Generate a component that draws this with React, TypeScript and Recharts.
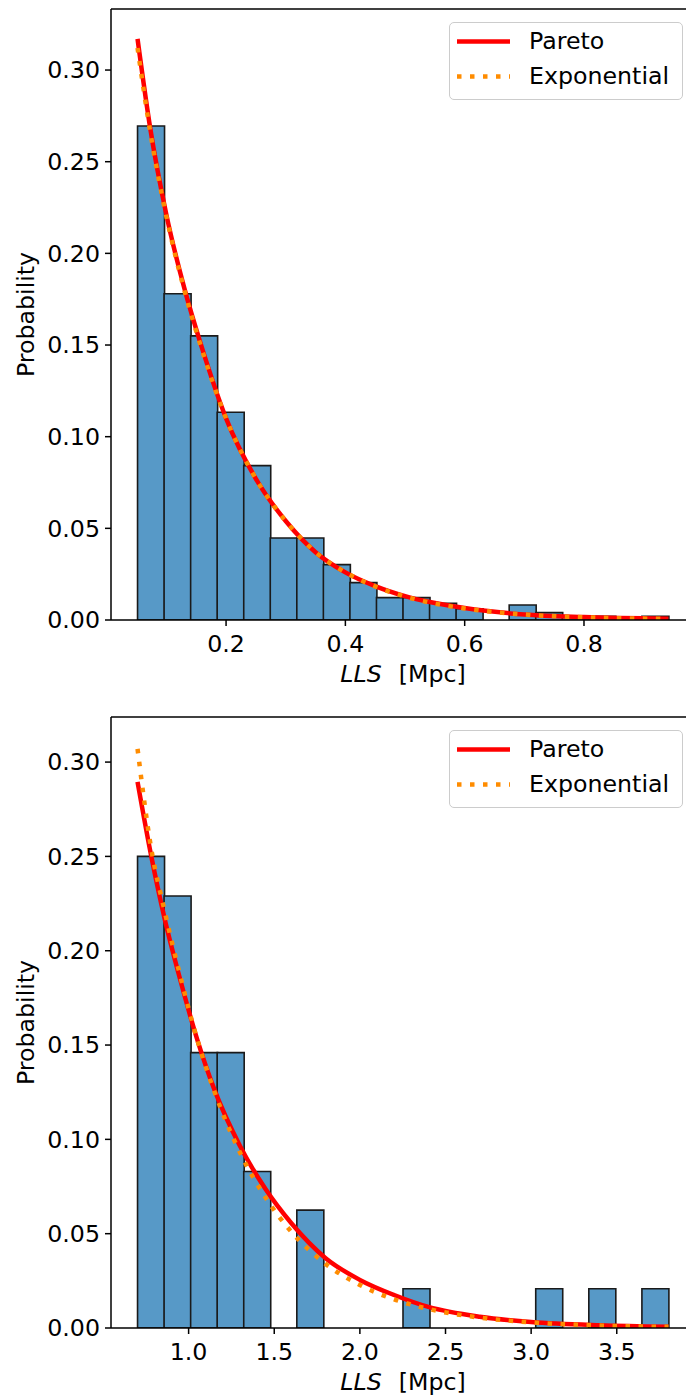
import React from "react";
import { ComposedChart, Bar, Line, XAxis, YAxis, Legend, ReferenceLine } from "recharts";

// ---- top panel: LLS histogram (0.05 - 0.94 Mpc) ----
const topBinCenters = [
  0.07385, 0.11835, 0.16285, 0.20735, 0.25185, 0.29635, 0.34085, 0.38535, 0.42985, 0.47435,
  0.51885, 0.56335, 0.60785, 0.65235, 0.69685, 0.74135, 0.78585, 0.83035, 0.87485, 0.91935,
];
const topProb = [
  0.2695, 0.178, 0.155, 0.1133, 0.0842, 0.0447, 0.0447, 0.0302, 0.0204, 0.0122,
  0.0122, 0.0091, 0.0061, 0, 0.0082, 0.004, 0.002, 0.002, 0, 0.002,
];
const topCurveX = [0.0516, 0.0725, 0.1, 0.13, 0.16, 0.2, 0.25, 0.3, 0.35, 0.4, 0.45, 0.5, 0.6, 0.7, 0.8, 0.9416];
const topPareto = [0.317, 0.269, 0.221, 0.181, 0.148, 0.11, 0.077, 0.054, 0.037, 0.026, 0.0185, 0.013, 0.0065, 0.003, 0.0016, 0.0007];
const topExpon = [0.312, 0.267, 0.22, 0.18, 0.147, 0.11, 0.077, 0.054, 0.037, 0.026, 0.0183, 0.0128, 0.0063, 0.003, 0.0015, 0.0006];
const topXTicks = [0.2, 0.4, 0.6, 0.8];
const topYTicks = [0, 0.05, 0.1, 0.15, 0.2, 0.25, 0.3];

// ---- bottom panel: LLS histogram (0.70 - 3.80 Mpc) ----
const botBinCenters = [
  0.7793, 0.9343, 1.0893, 1.2443, 1.3993, 1.5543, 1.7093, 1.8643, 2.0193, 2.1743,
  2.3293, 2.4843, 2.6393, 2.7943, 2.9493, 3.1043, 3.2593, 3.4143, 3.5693, 3.7243,
];
const botProb = [
  0.25, 0.229, 0.146, 0.146, 0.083, 0, 0.0625, 0, 0, 0,
  0.0208, 0, 0, 0, 0, 0.0208, 0, 0.0208, 0, 0.0208,
];
const botCurveX = [0.7018, 0.78, 0.86, 0.95, 1.05, 1.15, 1.3, 1.45, 1.6, 1.8, 2.0, 2.2, 2.4, 2.7, 3.0, 3.4, 3.8018];
const botPareto = [0.2895, 0.251, 0.217, 0.185, 0.153, 0.1265, 0.0965, 0.0735, 0.0555, 0.037, 0.0255, 0.0175, 0.0112, 0.006, 0.0032, 0.0015, 0.0007];
const botExpon = [0.307, 0.255, 0.221, 0.187, 0.153, 0.1255, 0.093, 0.069, 0.051, 0.034, 0.0228, 0.0152, 0.0101, 0.0055, 0.003, 0.0013, 0.0006];
const botXTicks = [1.0, 1.5, 2.0, 2.5, 3.0, 3.5];
const botYTicks = [0, 0.05, 0.1, 0.15, 0.2, 0.25, 0.3];

const legendOrder = ["Pareto", "Exponential"];

const FONT = "'DejaVu Sans', sans-serif";
const FS = 23.7;
const BAR_FILL = "#5799c7";
const BAR_EDGE = "#1a1a1a";

const YLabel = (props: any) => {
  const { viewBox } = props;
  const cy = viewBox.y + viewBox.height / 2;
  return (
    <text x={34} y={cy} transform={`rotate(-90, 34, ${cy})`} textAnchor="middle"
      fontFamily={FONT} fontSize={FS} fill="#000">
      Probability
    </text>
  );
};

const XLabel = (props: any) => {
  const { viewBox } = props;
  const cx = viewBox.x + viewBox.width / 2;
  return (
    <text x={cx} y={viewBox.y + 62} textAnchor="middle" fontFamily={FONT} fontSize={FS} fill="#000">
      <tspan fontStyle="italic">LLS</tspan>
      <tspan dx={17}>[Mpc]</tspan>
    </text>
  );
};

const LegendBox = (props: any) => {
  const items = (props.payload || [])
    .filter((it: any) => legendOrder.includes(it.value))
    .sort((a: any, b: any) => legendOrder.indexOf(a.value) - legendOrder.indexOf(b.value));
  return (
    <div style={{
      position: "relative", width: 234, height: 78, boxSizing: "border-box",
      border: "1.3px solid #cccccc", borderRadius: 5, background: "rgba(255,255,255,0.8)",
      fontFamily: FONT, fontSize: FS, color: "#000",
    }}>
      {items.map((it: any, i: number) => (
        <div key={it.value} style={{ position: "absolute", left: 0, top: 3 + i * 34.5, height: 31, width: 230 }}>
          <svg width={70} height={31} style={{ position: "absolute", left: 0, top: 0 }}>
            <line x1={7} x2={60} y1={15.5} y2={15.5} stroke={it.color} strokeWidth={4.5}
              strokeDasharray={it.payload?.strokeDasharray} />
          </svg>
          <span style={{ position: "absolute", left: 79, top: 1, lineHeight: "28px", whiteSpace: "nowrap" }}>{it.value}</span>
        </div>
      ))}
    </div>
  );
};

function HistPanel(props: {
  centers: number[]; probs: number[]; curveX: number[]; pareto: number[]; expon: number[];
  xDomain: [number, number]; xTicks: number[]; yMax: number; yTicks: number[]; top: number;
}) {
  const { centers, probs, curveX, pareto, expon, xDomain, xTicks, yMax, yTicks, top } = props;
  const bins = centers.map((x, i) => ({ x, p: probs[i] }));
  const paretoData = curveX.map((x, i) => ({ x, p: pareto[i] }));
  const exponData = curveX.map((x, i) => ({ x, p: expon[i] }));
  const tickStyle = { fontSize: FS, fill: "#000", fontFamily: FONT };
  const axisStroke = { stroke: "#000", strokeWidth: 1.5 };

  return (
    <div style={{ position: "absolute", left: 0, top }}>
      <ComposedChart width={720} height={700} data={bins} barCategoryGap={0} barGap={0}
        margin={{ top: 9, right: 25, left: 0, bottom: 0 }}>
        <XAxis xAxisId="bins" orientation="top" dataKey="x" type="number" domain={xDomain}
          allowDataOverflow hide height={0} />
        <XAxis xAxisId="main" dataKey="x" type="number" domain={xDomain} allowDataOverflow
          ticks={xTicks} tickFormatter={(v: number) => v.toFixed(1)} tick={tickStyle}
          tickSize={6} tickMargin={9} axisLine={axisStroke} tickLine={axisStroke} height={80}
          interval={0} label={<XLabel />} />
        <YAxis type="number" domain={[0, yMax]} allowDataOverflow ticks={yTicks}
          tickFormatter={(v: number) => v.toFixed(2)} tick={tickStyle} tickSize={6} tickMargin={5}
          axisLine={axisStroke} tickLine={axisStroke} width={111} interval={0} label={<YLabel />} />
        <ReferenceLine xAxisId="main" y={yMax} stroke="#000" strokeWidth={1.3} />
        <Bar xAxisId="bins" dataKey="p" fill={BAR_FILL} stroke={BAR_EDGE} strokeWidth={1.6}
          isAnimationActive={false} legendType="none" />
        <Line xAxisId="main" data={paretoData} dataKey="p" name="Pareto" type="monotone"
          stroke="#ff0000" strokeWidth={4.5} dot={false} activeDot={false} isAnimationActive={false} />
        <Line xAxisId="main" data={exponData} dataKey="p" name="Exponential" type="monotone"
          stroke="#ff8c00" strokeWidth={4.5} strokeDasharray="4.5 8.5" dot={false} activeDot={false}
          isAnimationActive={false} />
        <Legend layout="vertical" align="center" verticalAlign="middle" content={<LegendBox />}
          wrapperStyle={{ left: 449, top: 22, width: 234, height: 78 }} />
      </ComposedChart>
    </div>
  );
}

export default function App() {
  return (
    <div style={{ position: "absolute", left: 0, top: 0, width: 686, height: 1396, overflow: "hidden", background: "#fff" }}>
      <HistPanel centers={topBinCenters} probs={topProb} curveX={topCurveX} pareto={topPareto}
        expon={topExpon} xDomain={[0.0071, 0.9861]} xTicks={topXTicks} yMax={0.3333}
        yTicks={topYTicks} top={0} />
      <HistPanel centers={botBinCenters} probs={botProb} curveX={botCurveX} pareto={botPareto}
        expon={botExpon} xDomain={[0.5468, 3.9568]} xTicks={botXTicks} yMax={0.3239}
        yTicks={botYTicks} top={708} />
    </div>
  );
}
